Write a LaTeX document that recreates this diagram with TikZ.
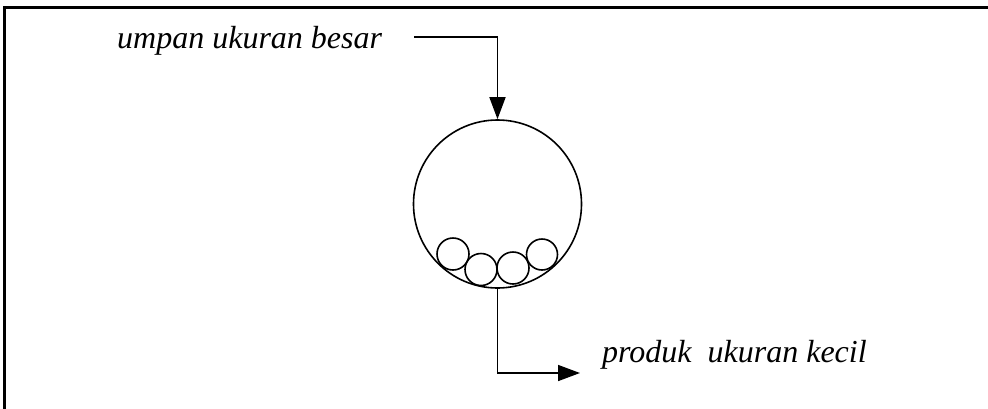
\documentclass[tikz,border=0pt]{standalone}
\usepackage{fontspec}
\setmainfont{Liberation Serif}
\usetikzlibrary{arrows.meta}
\tikzset{
  line/.style={line width=1.6bp, black},
  arr/.style={line width=1.6bp, -{Triangle[length=22bp,width=16bp]}},
  ball/.style={circle, draw, line width=1.6bp, minimum size=32bp, inner sep=0pt},
  drumstyle/.style={circle, draw, line width=1.6bp, minimum size=168bp, inner sep=0pt},
  lbl/.style={font=\fontsize{32bp}{36bp}\selectfont\itshape, inner sep=0pt, anchor=base west}
}
\begin{document}
\begin{tikzpicture}[x=1bp, y=-1bp]
\useasboundingbox (0,0) rectangle (988,408);
\begin{scope}
\clip (0,0) rectangle (988,408);
\draw[line width=3bp] (1000,7.5) -- (4.5,7.5) -- (4.5,420);
\end{scope}
\node[drumstyle] (drum) at (497.5,204) {};
\node[ball] (b1) at (453,254) {};
\node[ball] (b2) at (481,269.5) {};
\node[ball] (b3) at (513,268) {};
\node[ball, minimum size=31bp] (b4) at (542,254.5) {};
\node[lbl] (feed) at (117,48) {umpan ukuran besar};
\node[lbl] (prod) at (602,362) {produk\ \ ukuran kecil};
\coordinate (in) at (414,37);
\coordinate (out) at (580,373);
\draw[arr] (in) -| (drum.north);
\draw[arr] (drum.south) |- (out);
\end{tikzpicture}
\end{document}
